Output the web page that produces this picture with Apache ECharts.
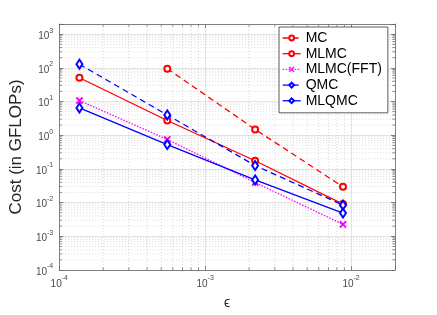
<!DOCTYPE html>
<html><head><meta charset="utf-8">
<script src="https://cdn.jsdelivr.net/npm/echarts@6/dist/echarts.min.js"></script>
<style>html,body{margin:0;padding:0;background:#fff}#c{width:437px;height:315px}</style>
</head><body><div id="c"></div>
<script>
// ---- data ----
const epsilon = [1.375e-4, 5.5e-4, 2.2e-3, 8.8e-3];
const seriesNames = ['MC', 'MLMC', 'MLMC(FFT)', 'QMC', 'MLQMC'];
const costMC = [null, 94.5, 1.49, 0.0294];
const costMLMC = [50.8, 2.74, 0.175, 0.00904];
const costFFT = [10.7, 0.748, 0.0395, 0.00226];
const costQMC = [128, 3.99, 0.126, 0.00845];
const costMLQMC = [6.46, 0.527, 0.047, 0.0049];
const xTickExps = [-4, -3, -2];
const yTickExps = [-4, -3, -2, -1, 0, 1, 2, 3];
const xLimits = [1e-4, 2e-2];
const yLimits = [1e-4, 2e3];

const FONT = 'Liberation Sans, Arial, sans-serif';
const xMin = Math.log10(xLimits[0]), xMax = Math.log10(xLimits[1]);
const yMin = Math.log10(yLimits[0]), yMax = Math.log10(yLimits[1]);

function toPts(costs) {
  const out = [];
  costs.forEach((c, i) => { if (c != null) out.push([Math.log10(epsilon[i]), Math.log10(c)]); });
  return out;
}
function minorVals(lim0, lim1) {
  const out = [];
  const lo = Math.floor(Math.log10(lim0)), hi = Math.ceil(Math.log10(lim1));
  for (let n = lo; n < hi; n++) for (let k = 2; k <= 9; k++) {
    const v = k * Math.pow(10, n);
    if (v > lim0 * 1.001 && v < lim1 * 0.999) out.push(Math.log10(v));
  }
  return out;
}
function fmt(exps) {
  return function (v) {
    const r = Math.round(v);
    if (Math.abs(v - r) < 1e-6 && exps.indexOf(r) >= 0) return '{b|10}{s|' + r + '}';
    return '';
  };
}
const labelRich = {
  b: { fontSize: 10, fontFamily: FONT, color: '#4a4a4a', lineHeight: 14, verticalAlign: 'bottom' },
  s: { fontSize: 7, fontFamily: FONT, color: '#4a4a4a', lineHeight: 14, verticalAlign: 'top' }
};
const xMinor = minorVals(xLimits[0], xLimits[1]).map(v => [v, yMin]);
const yMinor = minorVals(yLimits[0], yLimits[1]).map(v => [xMin, v]);

const gridStroke = { stroke: '#c9c9c9', lineWidth: 0.7, lineDash: [1, 2] };
const tickStroke = { stroke: '#666', lineWidth: 0.8 };
function minorX(params, api) {
  const v = api.value(0);
  const t = api.coord([v, yMax]), b = api.coord([v, yMin]);
  return { type: 'group', children: [
    { type: 'line', shape: { x1: t[0], y1: t[1], x2: b[0], y2: b[1] }, style: gridStroke },
    { type: 'line', shape: { x1: b[0], y1: b[1], x2: b[0], y2: b[1] - 2.5 }, style: tickStroke },
    { type: 'line', shape: { x1: t[0], y1: t[1], x2: t[0], y2: t[1] + 2.5 }, style: tickStroke }
  ]};
}
function minorY(params, api) {
  const v = api.value(1);
  const l = api.coord([xMin, v]), r = api.coord([xMax, v]);
  return { type: 'group', children: [
    { type: 'line', shape: { x1: l[0], y1: l[1], x2: r[0], y2: r[1] }, style: gridStroke },
    { type: 'line', shape: { x1: l[0], y1: l[1], x2: l[0] + 2.5, y2: l[1] }, style: tickStroke },
    { type: 'line', shape: { x1: r[0], y1: r[1], x2: r[0] - 2.5, y2: r[1] }, style: tickStroke }
  ]};
}

const RED = '#ff0000', MAG = '#ff00ff', BLUE = '#0000ff';
const DASH = [6, 4], DOT = [1.5, 1.5];
const crossPath = 'path://M0,1L1,0L5,4L9,0L10,1L6,5L10,9L9,10L5,6L1,10L0,9L4,5Z';
const styles = {
  'MC': [RED, DASH, 'emptyCircle', 6],
  'MLMC': [RED, 'solid', 'emptyCircle', 6],
  'MLMC(FFT)': [MAG, DOT, crossPath, 6],
  'QMC': [BLUE, DASH, 'emptyDiamond', [6, 9]],
  'MLQMC': [BLUE, 'solid', 'emptyDiamond', [6, 9]]
};
const costs = { 'MC': costMC, 'MLMC': costMLMC, 'MLMC(FFT)': costFFT, 'QMC': costQMC, 'MLQMC': costMLQMC };
function lineSeries(name) {
  const s = styles[name];
  return {
    name: name, type: 'line', data: toPts(costs[name]), z: 5,
    symbol: s[2], symbolSize: s[3],
    lineStyle: { color: s[0], width: 1.3, type: s[1] },
    itemStyle: { color: s[0], borderColor: s[0], borderWidth: 1.1 },
    emphasis: { disabled: true }, animation: false
  };
}
const axisLine = { show: true, onZero: false, lineStyle: { color: '#808080', width: 1 } };
const axisTick = { show: true, inside: true, length: 4, lineStyle: { color: '#666', width: 0.8 } };

const chart = echarts.init(document.getElementById('c'), null, { renderer: 'canvas' });
chart.setOption({
  animation: false,
  backgroundColor: '#fff',
  grid: { left: 57, right: 42, top: 24, bottom: 36, containLabel: false },
  legend: {
    orient: 'vertical', left: 279, top: 27,
    backgroundColor: '#fff', borderColor: '#333', borderWidth: 0.8,
    padding: [4, 6, 5, 3], itemWidth: 18, itemHeight: 6, itemGap: 1.7,
    textStyle: { fontSize: 14, fontFamily: FONT, color: '#000', lineHeight: 13 },
    selectedMode: false,
    data: seriesNames.map(n => ({
      name: n,
      lineStyle: { color: styles[n][0], width: 1.3, type: styles[n][1] },
      itemStyle: { color: styles[n][0], borderColor: styles[n][0], borderWidth: 1 }
    }))
  },
  xAxis: [{
    type: 'value', min: xMin, max: xMax, interval: 1, position: 'bottom',
    axisLine: axisLine, axisTick: axisTick,
    axisLabel: { formatter: fmt(xTickExps), rich: labelRich, margin: 5, showMaxLabel: true },
    splitLine: { show: true, lineStyle: { color: '#e3e3e3', width: 1 } },
    name: 'ϵ', nameLocation: 'middle', nameGap: 26,
    nameTextStyle: { fontSize: 14, fontFamily: FONT, color: '#262626' }
  }, {
    type: 'value', min: xMin, max: xMax, interval: 1, position: 'top',
    axisLine: axisLine, axisTick: axisTick, axisLabel: { show: false }, splitLine: { show: false }
  }],
  yAxis: [{
    type: 'value', min: yMin, max: yMax, interval: 1, position: 'left',
    axisLine: axisLine, axisTick: axisTick,
    axisLabel: { formatter: fmt(yTickExps), rich: labelRich, margin: 6 },
    splitLine: { show: true, lineStyle: { color: '#e3e3e3', width: 1 } },
    name: 'Cost (in GFLOPs)', nameLocation: 'middle', nameGap: 25,
    nameTextStyle: { fontSize: 17, fontFamily: FONT, color: '#262626' }
  }, {
    type: 'value', min: yMin, max: yMax, interval: 1, position: 'right',
    axisLine: axisLine, axisTick: axisTick, axisLabel: { show: false }, splitLine: { show: false }
  }],
  series: [
    { type: 'custom', renderItem: minorX, data: xMinor, z: 1, clip: false, silent: true },
    { type: 'custom', renderItem: minorY, data: yMinor, z: 1, clip: false, silent: true }
  ].concat(seriesNames.map(lineSeries))
});
</script></body></html>
